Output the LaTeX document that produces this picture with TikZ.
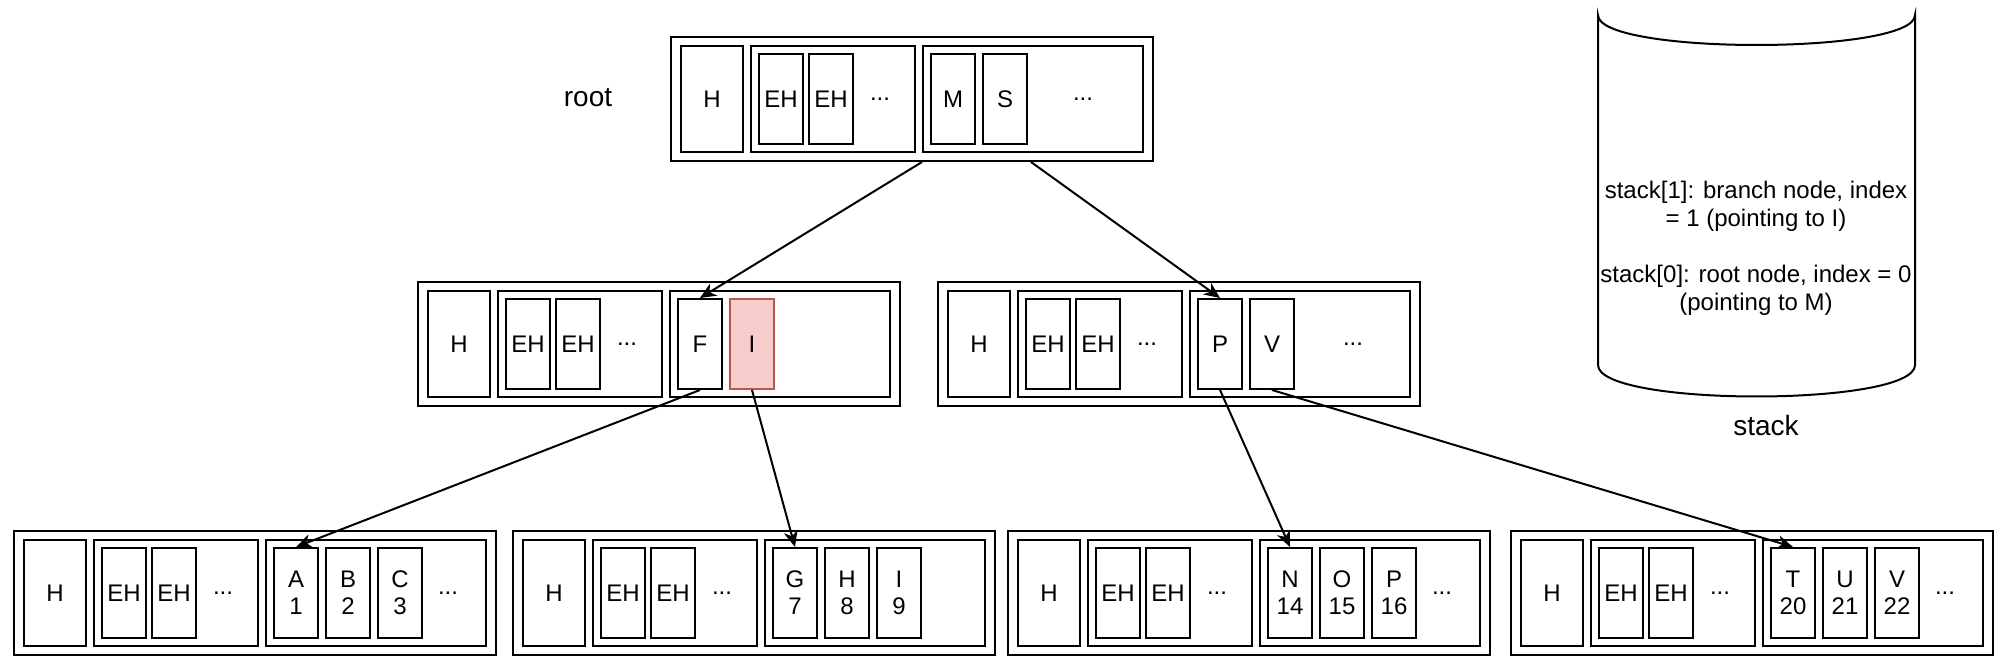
\documentclass[tikz,border=0pt]{standalone}
\usepackage{fontspec}
\setmainfont{Liberation Sans}
\usetikzlibrary{arrows.meta}
\definecolor{hotfill}{HTML}{F8CECC}
\definecolor{hotline}{HTML}{B85450}

\begin{document}
\begin{tikzpicture}[x=0.5pt,y=-0.5pt,
        page/.style={draw,line width=1pt,minimum width=241pt,minimum height=62pt,inner sep=0pt},
        part/.style={draw,line width=1pt,minimum height=53pt,inner sep=0pt},
        cell/.style={draw,line width=1pt,minimum width=22pt,minimum height=45pt,inner sep=0pt,align=center,font=\fontsize{12}{13.5}\selectfont},
        hot/.style={cell,fill=hotfill,draw=hotline},
        more/.style={font=\fontsize{12}{14}\selectfont},
        tag/.style={font=\fontsize{14}{16}\selectfont},
        link/.style={line width=1pt,-{Stealth[length=8pt,width=7pt,inset=2.5pt]}}]
        \useasboundingbox (0,0) rectangle (2002,672);
        %% Pages: header, entry headers, keys
        \foreach \p/\x/\y in {root/671/37, brL/418/282, brR/938/282, lfA/14/531, lfB/513/531, lfC/1008/531, lfD/1511/531} {
            \node[page] (\p) at ({\x+241},{\y+62}) {};
            \node[cell,minimum width=31pt,minimum height=53pt] (\p-h) at ({\x+41},{\y+62}) {H};
            \node[part,minimum width=82pt] (\p-eh) at ({\x+162},{\y+62}) {};
            \node[cell] (\p-e1) at ({\x+110},{\y+62}) {EH};
            \node[cell] (\p-e2) at ({\x+160},{\y+62}) {EH};
            \node[more] (\p-m1) at ({\x+209},{\y+62}) {...};
            \node[part,minimum width=110pt] (\p-keys) at ({\x+362},{\y+62}) {};
        }
        %% Root and branch keys
        \node[cell] (root-k1) at (953,99) {M};
        \node[cell] (root-k2) at (1005,99) {S};
        \node[more] (root-m2) at (1083,99) {...};
        \node[cell] (brL-k1) at (700,344) {F};
        \node[hot] (brL-k2) at (752,344) {I};
        \node[cell] (brR-k1) at (1220,344) {P};
        \node[cell] (brR-k2) at (1272,344) {V};
        \node[more] (brR-m2) at (1353,344) {...};
        %% Leaf keys
        \foreach \p/\x/\ka/\kb/\kc/\na/\nb/\nc in {lfA/14/A/B/C/1/2/3, lfB/513/G/H/I/7/8/9, lfC/1008/N/O/P/14/15/16, lfD/1511/T/U/V/20/21/22} {
            \node[cell] (\p-k1) at ({\x+282},593) {\ka\\\na};
            \node[cell] (\p-k2) at ({\x+334},593) {\kb\\\nb};
            \node[cell] (\p-k3) at ({\x+386},593) {\kc\\\nc};
        }
        \foreach \p/\x in {lfA/14, lfC/1008, lfD/1511} {
            \node[more] (\p-m2) at ({\x+434},593) {...};
        }
        %% Labels
        \node[tag] (rootlbl) at (588,98) {root};
        \node[tag] (stacklbl) at (1766,425) {stack};
        %% Pointers
        \coordinate (rootL) at ([xshift=-4pt]root-k1.south west |- root.south);
        \coordinate (rootR) at ([xshift=1.5pt]root-k2.south east |- root.south);
        \draw[link] (rootL) -- (brL-k1.north);
        \draw[link] (rootR) -- (brR-k1.north);
        \draw[link] (brL-k1.south) -- (lfA-k1.north);
        \draw[link] (brL-k2.south) -- (lfB-k1.north);
        \draw[link] (brR-k1.south) -- (lfC-k1.north);
        \draw[link] (brR-k2.south) -- (lfD-k1.north);
        %% Stack
        \draw[line width=1pt] (1598,15) .. controls (1598,55) and (1915,55) .. (1915,15) -- (1915,365)
            .. controls (1915,407) and (1598,407) .. (1598,365) -- cycle;
        \node[align=center,font=\fontsize{12}{14}\selectfont] (stack) at (1756,248)
            {stack[1]: branch node, index\\= 1 (pointing to I)\\[14pt]stack[0]: root node, index = 0\\(pointing to M)};
    \end{tikzpicture}
\end{document}
